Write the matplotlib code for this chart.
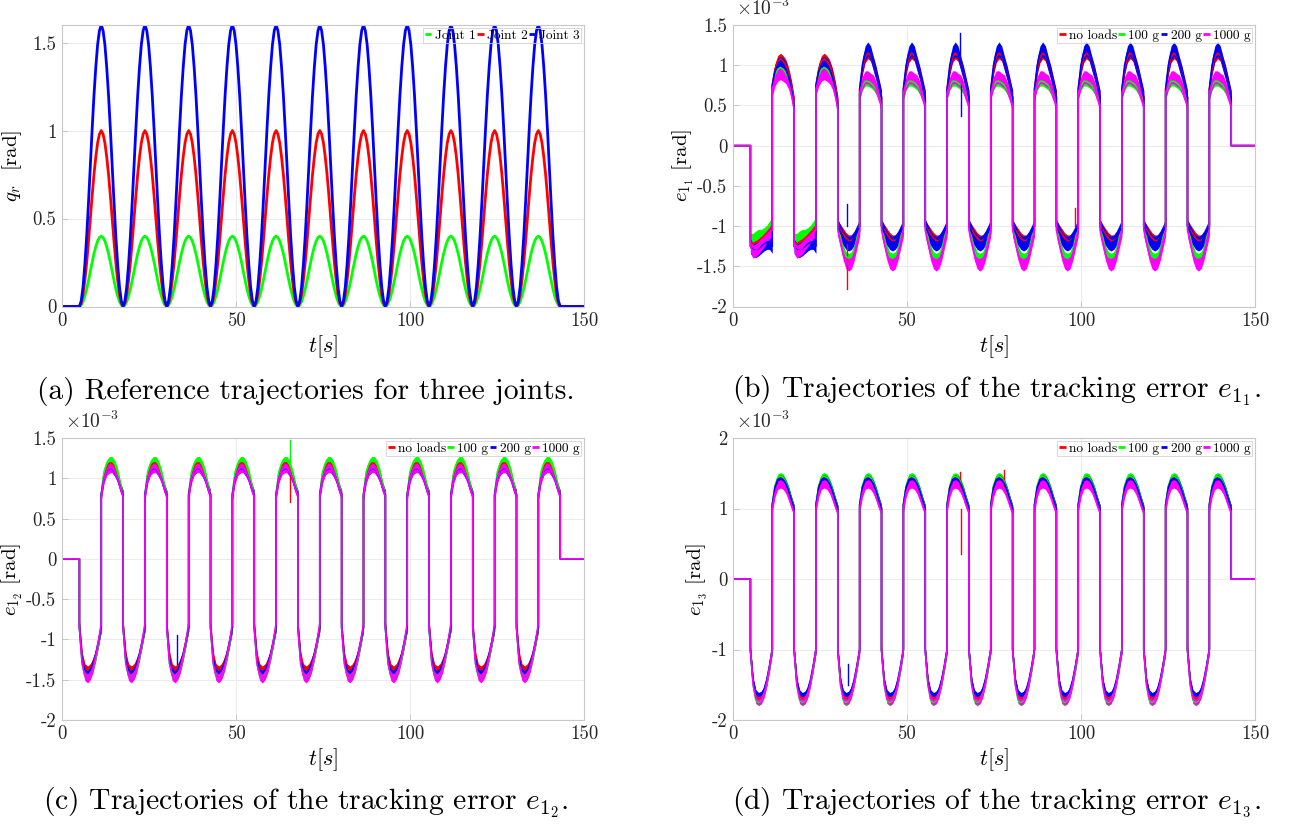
import numpy as np
import matplotlib
matplotlib.use('Agg')
import matplotlib.pyplot as plt
from matplotlib.ticker import FuncFormatter

plt.rcParams['font.family'] = 'serif'
plt.rcParams['font.serif'] = ['cmr10', 'DejaVu Serif']
plt.rcParams['mathtext.fontset'] = 'cm'
plt.rcParams['axes.unicode_minus'] = False
plt.rcParams['axes.formatter.use_mathtext'] = True

# ---------------- values ----------------
t_end = 150.0
t_on = 5.0        # motion starts [s]
half = 6.28       # half of one hump [s]
n_cycles = 11

# (a) one hump of the reference, as fraction of its peak (sampled every half/12)
hump = [0.0, 0.02, 0.07, 0.15, 0.25, 0.37, 0.5, 0.63, 0.75, 0.85, 0.93, 0.98,
        1.0, 0.98, 0.93, 0.85, 0.75, 0.63, 0.5, 0.37, 0.25, 0.15, 0.07, 0.02]
joints = ['Joint 1', 'Joint 2', 'Joint 3']
q_peak = [0.4, 1.0, 1.6]

# (b)-(d) tracking errors in 1e-3 rad, 9 samples per half cycle
# order: no loads, 100 g, 200 g, 1000 g
loads = ['no loads', '100 g', '200 g', '1000 g']

e11_neg_early = [[-1.20, -1.22, -1.20, -1.18, -1.15, -1.12, -1.08, -1.05, -1.00],
                 [-1.15, -1.15, -1.12, -1.10, -1.10, -1.08, -1.05, -1.00, -0.95],
                 [-1.25, -1.30, -1.30, -1.28, -1.25, -1.22, -1.20, -1.20, -1.25],
                 [-1.25, -1.32, -1.30, -1.27, -1.22, -1.18, -1.12, -1.08, -1.05]]
e11_pos_early = [[0.75, 0.95, 1.05, 1.08, 1.05, 1.00, 0.90, 0.75, 0.55],
                 [0.70, 0.88, 0.95, 0.97, 0.95, 0.90, 0.82, 0.70, 0.50],
                 [0.75, 0.92, 1.00, 1.02, 1.00, 0.95, 0.85, 0.70, 0.50],
                 [0.70, 0.82, 0.88, 0.90, 0.88, 0.85, 0.78, 0.65, 0.45]]
e11_neg = [[-1.00, -1.05, -1.10, -1.15, -1.18, -1.18, -1.15, -1.10, -1.00],
           [-1.00, -1.15, -1.30, -1.38, -1.40, -1.38, -1.30, -1.15, -1.00],
           [-1.00, -1.08, -1.15, -1.20, -1.22, -1.20, -1.15, -1.08, -1.00],
           [-1.05, -1.20, -1.35, -1.45, -1.48, -1.45, -1.35, -1.20, -1.05]]
e11_pos = [[0.70, 0.95, 1.10, 1.15, 1.12, 1.02, 0.90, 0.75, 0.60],
           [0.65, 0.75, 0.80, 0.80, 0.78, 0.75, 0.70, 0.62, 0.55],
           [0.70, 1.00, 1.15, 1.20, 1.15, 1.02, 0.90, 0.75, 0.60],
           [0.65, 0.78, 0.85, 0.85, 0.82, 0.80, 0.72, 0.62, 0.50]]

e12_neg = [[-0.80, -1.20, -1.35, -1.38, -1.35, -1.28, -1.18, -1.03, -0.85],
           [-0.85, -1.30, -1.45, -1.48, -1.44, -1.35, -1.22, -1.05, -0.85],
           [-0.85, -1.25, -1.38, -1.42, -1.38, -1.30, -1.18, -1.02, -0.85],
           [-0.85, -1.30, -1.45, -1.48, -1.44, -1.35, -1.20, -1.02, -0.80]]
e12_pos = [[0.80, 1.05, 1.15, 1.19, 1.19, 1.14, 1.05, 0.90, 0.80],
           [0.80, 1.08, 1.18, 1.22, 1.22, 1.17, 1.07, 0.92, 0.80],
           [0.80, 1.00, 1.09, 1.12, 1.12, 1.07, 1.00, 0.88, 0.80],
           [0.78, 1.00, 1.10, 1.13, 1.13, 1.08, 1.00, 0.88, 0.78]]

e13_neg = [[-1.00, -1.45, -1.65, -1.70, -1.68, -1.60, -1.45, -1.25, -1.00],
           [-1.00, -1.50, -1.72, -1.75, -1.72, -1.62, -1.47, -1.27, -1.00],
           [-1.00, -1.45, -1.62, -1.66, -1.64, -1.57, -1.43, -1.23, -1.00],
           [-1.00, -1.50, -1.70, -1.73, -1.71, -1.63, -1.47, -1.25, -1.00]]
e13_pos = [[1.05, 1.30, 1.42, 1.44, 1.42, 1.35, 1.25, 1.12, 1.00],
           [1.05, 1.32, 1.44, 1.46, 1.44, 1.37, 1.27, 1.13, 1.00],
           [1.05, 1.30, 1.41, 1.43, 1.41, 1.35, 1.25, 1.12, 1.00],
           [1.00, 1.22, 1.33, 1.35, 1.33, 1.27, 1.17, 1.05, 0.95]]

# noise thickness (+/-) of each trace
band_e11 = [0.07, 0.06, 0.09, 0.08]
band_e12 = [0.05, 0.05, 0.05, 0.06]
band_e13 = [0.05, 0.05, 0.05, 0.06]

# isolated spikes: (load index, t, from, to)
spikes_e11 = [(0, 32.8, -1.20, -1.78), (2, 32.9, -1.00, -0.72), (2, 65.3, 1.10, 1.40),
              (2, 65.6, 0.80, 0.37), (0, 98.4, -1.00, -0.78)]
spikes_e12 = [(1, 65.4, 1.15, 1.47), (0, 65.5, 1.05, 0.70), (2, 33.0, -1.30, -0.95)]
spikes_e13 = [(0, 65.5, 1.00, 0.35), (0, 65.2, 1.30, 1.52), (2, 33.0, -1.50, -1.20),
              (0, 77.8, 1.30, 1.55)]

joint_colors = ['#00ff00', '#ff0000', '#0000ff']
load_colors = ['#ff0000', '#00ff00', '#0000ff', '#ff00ff']


def build_error(neg_cycles, pos_cycles, w):
    t = [0.0, t_on]
    e = [0.0, 0.0]
    wid = [0.0, 0.0]
    for k in range(n_cycles):
        neg, pos = neg_cycles[k], pos_cycles[k]
        t0 = t_on + 2 * half * k
        t += list(np.linspace(t0, t0 + half, len(neg)))
        t += list(np.linspace(t0 + half, t0 + 2 * half, len(pos)))
        e += neg + pos
        wid += [w] * (len(neg) + len(pos))
    t_off = t_on + 2 * half * n_cycles
    t += [t_off, t_end]
    e += [0.0, 0.0]
    wid += [0.0, 0.0]
    return np.array(t), np.array(e), np.array(wid)


def style_axes(ax):
    for s in ax.spines.values():
        s.set_color('#c8c8c8')
        s.set_linewidth(0.8)
    ax.grid(True, color='#ebebeb', linewidth=0.7)
    ax.set_axisbelow(True)
    ax.tick_params(direction='in', length=4, width=0.6, color='#c0c0c0',
                   labelsize=13.5, labelcolor='#262626', pad=4)
    ax.set_xlim(0, t_end)
    ax.set_xticks([0, 50, 100, 150])
    ax.xaxis.set_major_formatter(FuncFormatter(lambda v, p: '%g' % v))
    ax.yaxis.set_major_formatter(FuncFormatter(lambda v, p: '%g' % v))
    ax.set_xlabel(r'$t[s]$', fontsize=16, labelpad=2)


def legend(ax, handles, labels_):
    leg = ax.legend(handles, labels_, loc='upper right', ncol=len(labels_), fontsize=9.6,
                    handlelength=0.5, handletextpad=0.25, columnspacing=0.1,
                    borderpad=0.12, borderaxespad=0.2, fancybox=False)
    leg.get_frame().set_facecolor('none')
    leg.get_frame().set_edgecolor('#d0d0d0')
    leg.get_frame().set_linewidth(0.7)
    for line in leg.get_lines():
        line.set_linewidth(2)
        line.set_solid_capstyle('butt')


def error_panel(ax, neg_cycles, pos_cycles, bands, spikes, sub, ylim, yticks):
    handles = []
    for i in range(len(loads)):
        t, e, w = build_error(neg_cycles[i], pos_cycles[i], bands[i])
        ax.fill_between(t, e - w, e + w, color=load_colors[i], linewidth=0)
        h, = ax.plot(t, e, color=load_colors[i], linewidth=1.2)
        handles.append(h)
        for (j, ts, y0, y1) in spikes:
            if j == i:
                ax.plot([ts, ts], [y0, y1], color=load_colors[i], linewidth=1.0)
    style_axes(ax)
    ax.set_ylim(*ylim)
    ax.set_yticks(yticks)
    ax.set_ylabel(r'$e_{1_%d}$ [rad]' % sub, fontsize=15, labelpad=1)
    ax.text(0.005, 1.02, r'$\times10^{-3}$', transform=ax.transAxes,
            ha='left', va='bottom', fontsize=14, color='#262626')
    legend(ax, handles, loads)


fig = plt.figure(figsize=(12.89, 8.27), dpi=100)
W, H = 1289.0, 827.0
ax_a = fig.add_axes([62 / W, 1 - 306.5 / H, 522 / W, 281.5 / H])
ax_b = fig.add_axes([733 / W, 1 - 306.5 / H, 522 / W, 281.5 / H])
ax_c = fig.add_axes([62 / W, 1 - 720 / H, 522 / W, 282 / H])
ax_d = fig.add_axes([733 / W, 1 - 720 / H, 522 / W, 282 / H])

# (a) reference trajectories
t_a = [0.0] + list(np.linspace(t_on, t_on + 2 * half * n_cycles, len(hump) * n_cycles + 1)) + [t_end]
lines_a = []
for i in range(len(joints)):
    q = [0.0] + [v * q_peak[i] for v in hump] * n_cycles + [0.0, 0.0]
    h, = ax_a.plot(t_a, q, color=joint_colors[i], linewidth=2)
    lines_a.append(h)
style_axes(ax_a)
ax_a.set_ylim(0, 1.6)
ax_a.set_yticks([0, 0.5, 1, 1.5])
ax_a.set_ylabel(r'$q_r$  [rad]', fontsize=15, labelpad=6)
legend(ax_a, lines_a, joints)

# (b)-(d) tracking errors
neg_b = [[e11_neg_early[i]] * 2 + [e11_neg[i]] * (n_cycles - 2) for i in range(4)]
pos_b = [[e11_pos_early[i]] * 2 + [e11_pos[i]] * (n_cycles - 2) for i in range(4)]
error_panel(ax_b, neg_b, pos_b, band_e11, spikes_e11, 1, (-2, 1.5),
            [-2, -1.5, -1, -0.5, 0, 0.5, 1, 1.5])

neg_c = [[e12_neg[i]] * n_cycles for i in range(4)]
pos_c = [[e12_pos[i]] * n_cycles for i in range(4)]
error_panel(ax_c, neg_c, pos_c, band_e12, spikes_e12, 2, (-2, 1.5),
            [-2, -1.5, -1, -0.5, 0, 0.5, 1, 1.5])

neg_d = [[e13_neg[i]] * n_cycles for i in range(4)]
pos_d = [[e13_pos[i]] * n_cycles for i in range(4)]
error_panel(ax_d, neg_d, pos_d, band_e13, spikes_e13, 3, (-2, 2), [-2, -1, 0, 1, 2])

# sub-captions
cap = 21.3
fig.text(306 / W, 1 - 391 / H, '(a) Reference trajectories for three joints.',
         ha='center', va='center', fontsize=cap)
fig.text(996 / W, 1 - 391 / H, r'(b) Trajectories of the tracking error $e_{1_1}$.',
         ha='center', va='center', fontsize=cap)
fig.text(306 / W, 1 - 803 / H, r'(c) Trajectories of the tracking error $e_{1_2}$.',
         ha='center', va='center', fontsize=cap)
fig.text(996 / W, 1 - 803 / H, r'(d) Trajectories of the tracking error $e_{1_3}$.',
         ha='center', va='center', fontsize=cap)

fig.savefig('out.png', dpi=100)
